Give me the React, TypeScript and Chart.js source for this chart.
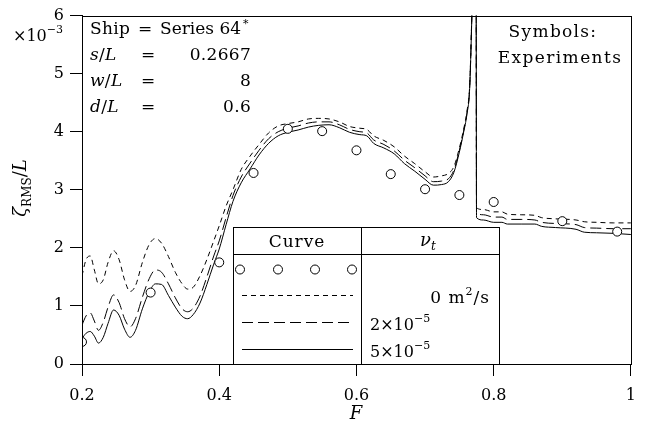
import React, { useEffect, useRef } from 'react';
import { Chart, registerables } from 'chart.js';
Chart.register(...registerables);

// ---------- data ----------
const fLeft = [0.200, 0.206, 0.212, 0.218, 0.224, 0.231, 0.238, 0.246, 0.254, 0.262, 0.270, 0.278, 0.288, 0.298, 0.307, 0.316, 0.326, 0.336, 0.346, 0.354, 0.362, 0.372, 0.382, 0.392, 0.400, 0.410, 0.420, 0.432, 0.445, 0.458, 0.472, 0.486, 0.500, 0.515, 0.530, 0.545, 0.560, 0.575, 0.590, 0.605, 0.615, 0.625, 0.640, 0.655, 0.670, 0.685, 0.700, 0.712, 0.724, 0.734, 0.742, 0.750, 0.756, 0.761, 0.765, 0.768, 0.771];
const solidLeft = [0.44, 0.53, 0.56, 0.48, 0.36, 0.46, 0.70, 0.93, 0.84, 0.60, 0.46, 0.58, 0.95, 1.24, 1.38, 1.37, 1.18, 0.98, 0.82, 0.78, 0.85, 1.05, 1.37, 1.72, 1.98, 2.40, 2.80, 3.12, 3.36, 3.60, 3.80, 3.93, 3.99, 4.03, 4.08, 4.11, 4.12, 4.07, 3.99, 3.95, 3.93, 3.80, 3.72, 3.62, 3.45, 3.32, 3.18, 3.08, 3.09, 3.14, 3.30, 3.65, 3.98, 4.30, 4.75, 5.90, 7.50];
const longLeft = [0.67, 0.83, 0.88, 0.74, 0.58, 0.72, 0.98, 1.19, 1.06, 0.78, 0.64, 0.78, 1.15, 1.47, 1.62, 1.58, 1.38, 1.14, 0.95, 0.90, 0.96, 1.17, 1.50, 1.86, 2.12, 2.52, 2.90, 3.22, 3.46, 3.68, 3.88, 4.00, 4.06, 4.10, 4.15, 4.17, 4.17, 4.12, 4.04, 4.00, 3.98, 3.86, 3.78, 3.67, 3.51, 3.38, 3.24, 3.14, 3.15, 3.19, 3.34, 3.68, 4.00, 4.32, 4.77, 5.92, 7.50];
const shortLeft = [1.52, 1.80, 1.86, 1.62, 1.38, 1.45, 1.75, 1.95, 1.80, 1.45, 1.25, 1.35, 1.75, 2.06, 2.16, 2.08, 1.85, 1.58, 1.38, 1.29, 1.32, 1.52, 1.80, 2.12, 2.38, 2.72, 3.00, 3.35, 3.58, 3.78, 3.98, 4.10, 4.14, 4.17, 4.22, 4.23, 4.22, 4.17, 4.09, 4.06, 4.04, 3.93, 3.85, 3.74, 3.58, 3.45, 3.31, 3.22, 3.24, 3.28, 3.40, 3.72, 4.03, 4.35, 4.80, 5.95, 7.50];

const fRight = [0.7744, 0.775, 0.785, 0.800, 0.812, 0.820, 0.840, 0.860, 0.870, 0.890, 0.920, 0.932, 0.950, 0.975, 1.000];
const solidRight = [7.5, 2.52, 2.48, 2.44, 2.44, 2.41, 2.41, 2.41, 2.37, 2.35, 2.32, 2.27, 2.26, 2.25, 2.23];
const longRight = [7.5, 2.61, 2.57, 2.53, 2.53, 2.49, 2.49, 2.48, 2.44, 2.42, 2.40, 2.35, 2.34, 2.33, 2.33];
const shortRight = [7.5, 2.69, 2.66, 2.62, 2.62, 2.58, 2.57, 2.56, 2.52, 2.50, 2.48, 2.45, 2.44, 2.43, 2.43];

const expF = [0.2, 0.3, 0.4, 0.45, 0.5, 0.55, 0.6, 0.65, 0.7, 0.75, 0.8, 0.9, 0.98];
const expV = [0.38, 1.23, 1.75, 3.29, 4.05, 4.01, 3.68, 3.27, 3.01, 2.91, 2.79, 2.46, 2.28];

const xTicks = [0.2, 0.4, 0.6, 0.8, 1];
const yTicks = [0, 1, 2, 3, 4, 5, 6];

// ---------- helpers ----------
const FAMILY = '"DejaVu Serif", serif';
const fnt = (size: number, italic = false) => `${italic ? 'italic ' : ''}${size}px ${FAMILY}`;

type Part = { t: string; size: number; italic?: boolean; dy?: number };

function toPts(xs: number[], ys: number[]) {
  return xs.map((x, i) => ({ x, y: ys[i] }));
}
function joinSegments(xl: number[], yl: number[], xr: number[], yr: number[]) {
  return [...toPts(xl, yl), { x: (xl[xl.length - 1] + xr[0]) / 2, y: null as any }, ...toPts(xr, yr)];
}

function drawRich(ctx: CanvasRenderingContext2D, x: number, y: number, parts: Part[], align: 'left' | 'center' | 'right' = 'left', spacing = 0) {
  ctx.save();
  (ctx as any).letterSpacing = `${spacing}px`;
  ctx.textAlign = 'left';
  ctx.textBaseline = 'alphabetic';
  ctx.fillStyle = '#000';
  const widths = parts.map((p) => {
    ctx.font = fnt(p.size, p.italic);
    return ctx.measureText(p.t).width;
  });
  const total = widths.reduce((a, b) => a + b, 0);
  let cx = align === 'left' ? x : align === 'center' ? x - total / 2 : x - total;
  parts.forEach((p, i) => {
    ctx.font = fnt(p.size, p.italic);
    ctx.fillText(p.t, cx, y + (p.dy || 0));
    cx += widths[i];
  });
  ctx.restore();
}

function line(ctx: CanvasRenderingContext2D, x1: number, y1: number, x2: number, y2: number, dash: number[] = []) {
  ctx.save();
  ctx.strokeStyle = '#000';
  ctx.lineWidth = 1;
  ctx.setLineDash(dash);
  ctx.beginPath();
  ctx.moveTo(x1, y1);
  ctx.lineTo(x2, y2);
  ctx.stroke();
  ctx.restore();
}

const TS = 17; // text size

const decorPlugin = {
  id: 'decor',
  afterDraw(chart: any) {
    const ctx: CanvasRenderingContext2D = chart.ctx;
    const a = chart.chartArea;
    // frame
    ctx.save();
    ctx.strokeStyle = '#000';
    ctx.lineWidth = 1;
    const L = Math.round(a.left) + 0.5, R = Math.round(a.right) + 0.5, T = Math.round(a.top) + 0.5, B = Math.round(a.bottom) + 0.5;
    ctx.strokeRect(L, T, R - L, B - T);
    ctx.restore();

    // ×10^-3
    drawRich(ctx, 63, 41, [
      { t: '×10', size: 16 },
      { t: '−3', size: 11, dy: -8 },
    ], 'right');

    // y title
    ctx.save();
    ctx.translate(26, 188);
    ctx.rotate(-Math.PI / 2);
    drawRich(ctx, 0, 0, [
      { t: 'ζ', size: 18, italic: true },
      { t: 'RMS', size: 12, dy: 5 },
      { t: '/', size: 18 },
      { t: 'L', size: 18, italic: true },
    ], 'center');
    ctx.restore();

    // x title
    drawRich(ctx, 356, 419, [{ t: 'F', size: 18, italic: true }], 'center');

    // top-left parameter block
    const sp = 0.3;
    drawRich(ctx, 90, 34, [{ t: 'Ship', size: TS }], 'left', sp);
    drawRich(ctx, 138, 34, [{ t: '=', size: TS }], 'left', sp);
    drawRich(ctx, 160, 34, [{ t: 'Series 64', size: TS }], 'left', 0);
    drawRich(ctx, 243, 27, [{ t: '*', size: 11 }], 'left');

    const rows: [string, string, number][] = [['s', '0.2667', 60], ['w', '8', 86], ['d', '0.6', 112]];
    rows.forEach(([v, val, by]) => {
      drawRich(ctx, 90, by, [
        { t: v, size: TS, italic: true },
        { t: '/', size: TS },
        { t: 'L', size: TS, italic: true },
      ], 'left', sp);
      drawRich(ctx, 141, by, [{ t: '=', size: TS }], 'left', sp);
      drawRich(ctx, 251, by, [{ t: val, size: TS }], 'right', sp);
    });

    // right note
    drawRich(ctx, 553, 37, [{ t: 'Symbols:', size: TS }], 'center', 1.3);
    drawRich(ctx, 560, 63, [{ t: 'Experiments', size: TS }], 'center', 1.4);

    // legend table
    const tl = 233.5, tr = 499.5, tt = 227.5, tb = Math.round(a.bottom) + 0.5, hd = 254.5, vd = 361.5;
    ctx.save();
    ctx.fillStyle = '#fff';
    ctx.fillRect(tl, tt, tr - tl, tb - tt);
    ctx.strokeStyle = '#000';
    ctx.lineWidth = 1;
    ctx.strokeRect(tl, tt, tr - tl, tb - tt);
    ctx.beginPath();
    ctx.moveTo(tl, hd); ctx.lineTo(tr, hd);
    ctx.moveTo(vd, tt); ctx.lineTo(vd, tb);
    ctx.stroke();
    ctx.restore();

    drawRich(ctx, 297, 247, [{ t: 'Curve', size: TS }], 'center', 1);
    drawRich(ctx, 428, 246, [
      { t: 'ν', size: 18, italic: true },
      { t: 't', size: 12, italic: true, dy: 4 },
    ], 'center');

    // legend symbols row
    [240, 278, 315, 352].forEach((cx) => {
      ctx.save();
      ctx.beginPath();
      ctx.arc(cx, 269.5, 4.5, 0, Math.PI * 2);
      ctx.fillStyle = '#fff';
      ctx.fill();
      ctx.strokeStyle = '#000';
      ctx.lineWidth = 1;
      ctx.stroke();
      ctx.restore();
    });
    line(ctx, 242, 295.5, 353, 295.5, [5, 4]);
    line(ctx, 242, 322.5, 353, 322.5, [11, 5]);
    line(ctx, 242, 349.5, 353, 349.5);

    drawRich(ctx, 490, 303, [
      { t: '0 m', size: TS },
      { t: '2', size: 11, dy: -8 },
      { t: '/s', size: TS },
    ], 'right', 1);
    drawRich(ctx, 370, 330, [
      { t: '2×10', size: 16 },
      { t: '−5', size: 11, dy: -8 },
    ], 'left');
    drawRich(ctx, 370, 357, [
      { t: '5×10', size: 16 },
      { t: '−5', size: 11, dy: -8 },
    ], 'left');
  },
};

export default function App() {
  const ref = useRef<HTMLCanvasElement>(null);
  useEffect(() => {
    if (!ref.current) return;
    const common = {
      type: 'line' as const,
      borderColor: '#000',
      borderWidth: 1,
      pointRadius: 0,
      fill: false,
      cubicInterpolationMode: 'monotone' as const,
      spanGaps: false,
    };
    const chart = new Chart(ref.current, {
      type: 'line',
      data: {
        datasets: [
          {
            label: 'Experiments',
            data: toPts(expF, expV),
            showLine: false,
            pointRadius: 4.5,
            pointStyle: 'circle',
            pointBackgroundColor: '#fff',
            pointBorderColor: '#000',
            pointBorderWidth: 1,
            borderColor: '#000',
            order: 0,
          } as any,
          { ...common, label: '0 m2/s', data: joinSegments(fLeft, shortLeft, fRight, shortRight), borderDash: [5, 4], order: 1 },
          { ...common, label: '2e-5', data: joinSegments(fLeft, longLeft, fRight, longRight), borderDash: [11, 5], order: 2 },
          { ...common, label: '5e-5', data: joinSegments(fLeft, solidLeft, fRight, solidRight), order: 3 },
        ],
      },
      options: {
        responsive: false,
        animation: false,
        layout: { padding: { top: 13, right: 15, left: 0, bottom: 0 } },
        plugins: { legend: { display: false }, tooltip: { enabled: false }, title: { display: false } },
        scales: {
          x: {
            type: 'linear',
            min: 0.2,
            max: 1,
            afterBuildTicks: (s: any) => { s.ticks = xTicks.map((v) => ({ value: v })); },
            afterFit: (s: any) => { s.height = 72; },
            ticks: { color: '#000', font: { family: FAMILY, size: 16 }, padding: 10, maxRotation: 0, callback: (v: any) => String(v) },
            grid: { drawOnChartArea: false, drawTicks: true, tickLength: 12, tickColor: '#000', tickWidth: 1 },
            border: { display: true, color: '#000', width: 1 },
          },
          y: {
            type: 'linear',
            min: 0,
            max: 6,
            afterBuildTicks: (s: any) => { s.ticks = yTicks.map((v) => ({ value: v })); },
            afterFit: (s: any) => { s.width = 82; },
            ticks: { color: '#000', font: { family: FAMILY, size: 16 }, padding: 6, callback: (v: any) => String(v) },
            grid: { drawOnChartArea: false, drawTicks: true, tickLength: 12, tickColor: '#000', tickWidth: 1 },
            border: { display: true, color: '#000', width: 1 },
          },
        },
      } as any,
      plugins: [decorPlugin],
    });
    return () => chart.destroy();
  }, []);
  return (
    <div style={{ position: 'fixed', left: 0, top: 0, width: 646, height: 436, background: '#fff' }}>
      <canvas ref={ref} width={646} height={436} style={{ display: 'block' }} />
    </div>
  );
}
